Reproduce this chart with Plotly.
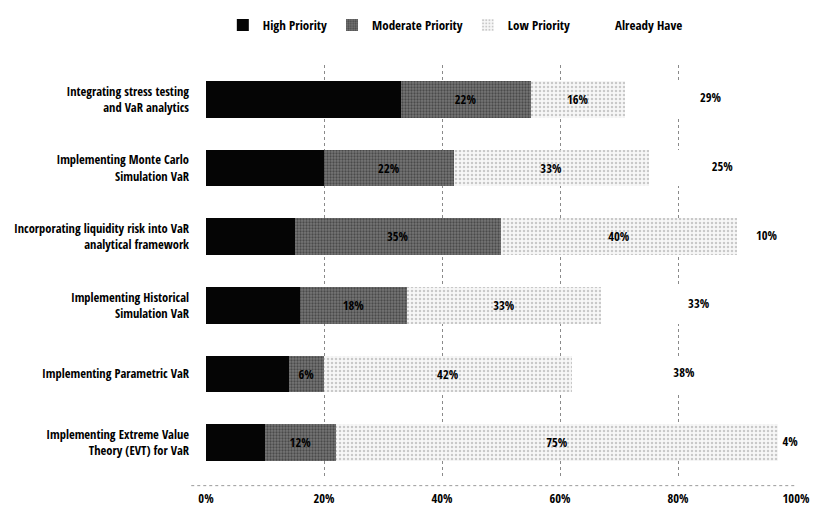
import plotly.graph_objects as go

# Survey categories (top to bottom)
categories = [
    "Integrating stress testing<br>and VaR analytics",
    "Implementing Monte Carlo<br>Simulation VaR",
    "Incorporating liquidity risk into VaR<br>analytical framework",
    "Implementing Historical<br>Simulation VaR",
    "Implementing Parametric VaR",
    "Implementing Extreme Value<br>Theory (EVT) for VaR",
]

high_priority = [33, 20, 15, 16, 14, 10]
moderate_priority = [22, 22, 35, 18, 6, 12]
low_priority = [16, 33, 40, 33, 42, 75]
already_have = [29, 25, 10, 33, 38, 4]

tick_values = [0, 20, 40, 60, 80, 100]
tick_labels = ["0%", "20%", "40%", "60%", "80%", "100%"]

FONT = "Open Sans Condensed, Roboto Condensed, sans-serif"
LABEL_FONT = dict(color="black", size=12.5, family=FONT, weight="bold")


def pct(values):
    return [f"{v}%" for v in values]


fig = go.Figure()

fig.add_trace(go.Bar(
    name="High Priority", y=categories, x=high_priority, orientation="h",
    marker=dict(color="#050505", line=dict(width=0)),
))
fig.add_trace(go.Bar(
    name="Moderate Priority", y=categories, x=moderate_priority, orientation="h",
    marker=dict(color="#767676", line=dict(width=0),
                pattern=dict(shape=".", fgcolor="#1e1e1e", size=3, solidity=0.45,
                             fillmode="overlay")),
    text=pct(moderate_priority), textposition="inside", insidetextanchor="middle",
    textangle=0, textfont=LABEL_FONT,
))
fig.add_trace(go.Bar(
    name="Low Priority", y=categories, x=low_priority, orientation="h",
    marker=dict(color="#f7f7f7", line=dict(width=0),
                pattern=dict(shape=".", fgcolor="#9a9a9a", size=4, solidity=0.3,
                             fillmode="overlay")),
    text=pct(low_priority), textposition="inside", insidetextanchor="middle",
    textangle=0, textfont=LABEL_FONT,
))
fig.add_trace(go.Bar(
    name="Already Have", y=categories, x=already_have, orientation="h",
    marker=dict(color="white", line=dict(width=0)),
))

# "Already Have" labels sit at the middle of their segment; drawn as a text
# layer so the narrow 4% segment still shows its value.
already_start = [h + m + l for h, m, l in zip(high_priority, moderate_priority, low_priority)]
already_mid = [s + a / 2 for s, a in zip(already_start, already_have)]
fig.add_trace(go.Scatter(
    x=already_mid, y=categories, mode="text", text=pct(already_have),
    textposition="middle center", textfont=LABEL_FONT,
    showlegend=False, hoverinfo="skip", cliponaxis=False,
))

fig.update_layout(
    width=816, height=511,
    barmode="stack", bargap=0.47,
    paper_bgcolor="white", plot_bgcolor="white",
    margin=dict(l=206, r=20, t=65, b=34, autoexpand=False),
    font=dict(family=FONT, size=12.5, color="black", weight="bold"),
    uniformtext=dict(minsize=11, mode="show"),
    legend=dict(
        orientation="h", xref="container", yref="container",
        x=0.558, xanchor="center", y=0.951, yanchor="middle",
        font=dict(size=13, family=FONT, weight="bold"),
        itemwidth=30, traceorder="normal",
    ),
    xaxis=dict(
        range=[0, 100], tickvals=tick_values, ticktext=tick_labels,
        showgrid=True, gridcolor="#8a8a8a", griddash="dot", gridwidth=1,
        zeroline=False, showline=False, ticks="", automargin=False,
        ticklabelstandoff=12,
        tickfont=dict(size=12.5, family=FONT, weight="bold"),
    ),
    yaxis=dict(
        categoryorder="array", categoryarray=categories, autorange="reversed",
        showgrid=False, zeroline=False, showline=False, ticks="",
        ticklabelstandoff=16, automargin=False,
        tickfont=dict(size=12.5, family=FONT, weight="bold"),
    ),
    shapes=[dict(type="line", xref="paper", yref="paper", x0=-0.025, x1=1.0,
                 y0=-0.021, y1=-0.021, line=dict(color="#9a9a9a", width=1, dash="dot"))],
)

fig.write_html("out.html")
